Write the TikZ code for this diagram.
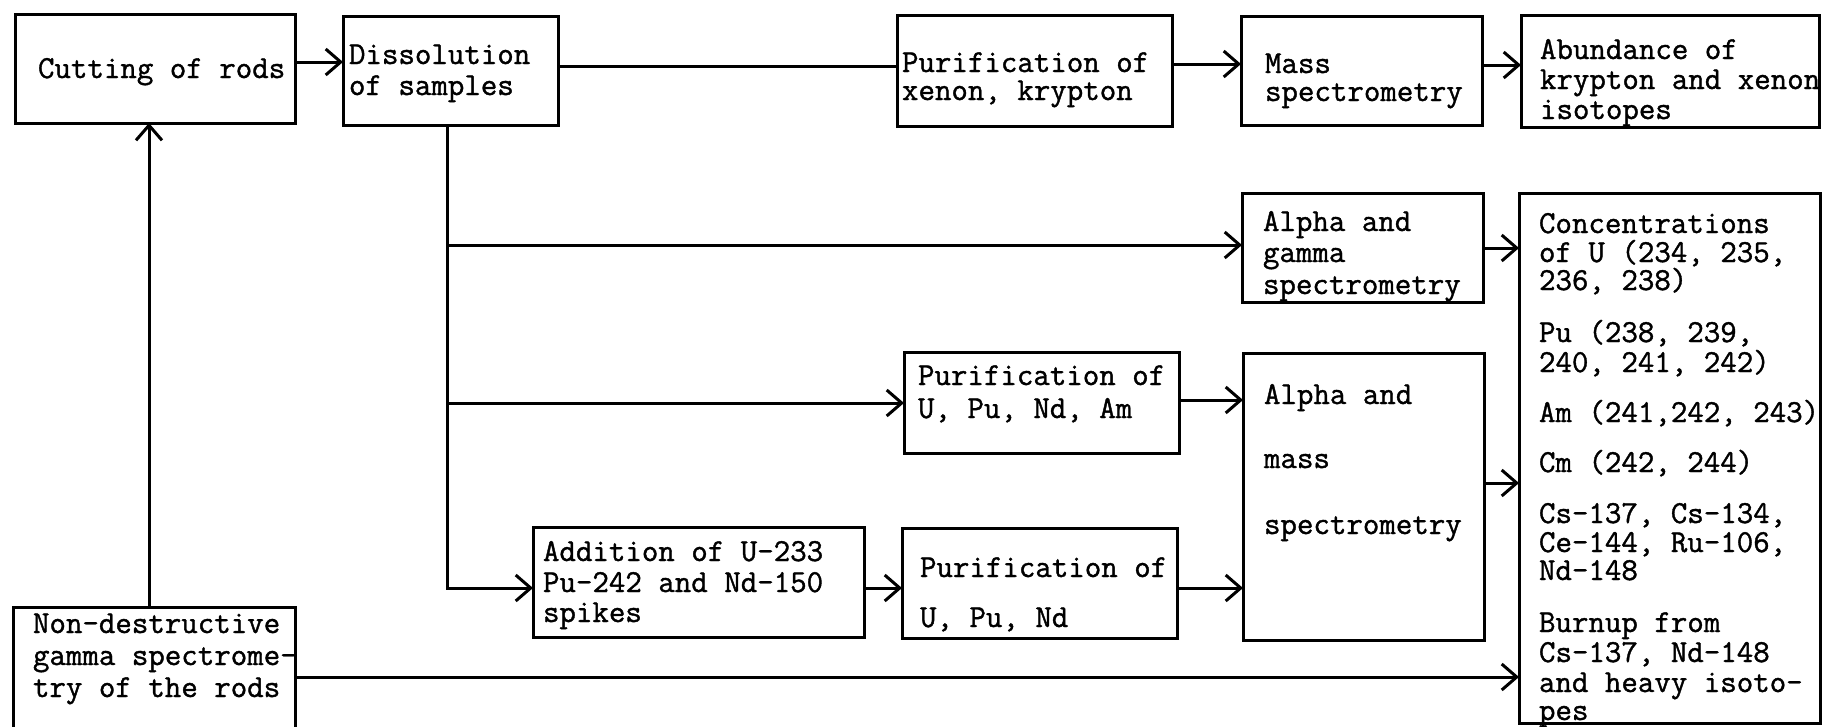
\documentclass[tikz,border=0pt]{standalone}
\usepackage{fontspec}
\newfontfamily\typew{Latin Modern Mono}[FakeBold=1.2]
\usetikzlibrary{arrows.meta}
\begin{document}
\begin{tikzpicture}[x=1pt,y=-1pt,
  box/.style={draw, line width=3pt, anchor=north west, inner sep=0pt, outer sep=0pt},
  txt/.style={anchor=base west, inner sep=0pt, outer sep=0pt, font=\typew\fontsize{32}{32}\selectfont},
  conn/.style={line width=3pt},
  arr/.style={conn, -{Straight Barb[length=15pt,width=26pt,line width=3pt]}}]
\clip (0,0) rectangle (1837,726);
% boxes
\node[box, minimum width=280pt, minimum height=109pt] (cut) at (15,14) {};
\node[box, minimum width=215pt, minimum height=109pt] (diss) at (343,16) {};
\node[box, minimum width=275pt, minimum height=111pt] (xen) at (897,15) {};
\node[box, minimum width=241pt, minimum height=109pt] (mass) at (1241,16) {};
\node[box, minimum width=298pt, minimum height=112pt] (abund) at (1521,15) {};
\node[box, minimum width=241pt, minimum height=109pt] (ag) at (1242,193) {};
\node[box, minimum width=301pt, minimum height=530pt] (res) at (1519,193) {};
\node[box, minimum width=275pt, minimum height=101pt] (pam) at (904,352) {};
\node[box, minimum width=241pt, minimum height=287pt] (am) at (1243,353) {};
\node[box, minimum width=331pt, minimum height=110pt] (add) at (533,527) {};
\node[box, minimum width=275pt, minimum height=110pt] (pun) at (902,528) {};
\node[box, minimum width=282pt, minimum height=160pt] (nd) at (13,607) {};
% texts
\node[txt] (t-cut) at (38,78) {Cutting of rods};
\node[txt] (t-diss1) at (349,64) {Dissolution};
\node[txt] (t-diss2) at (349,95) {of samples};
\node[txt] (t-xen1) at (902,72) {Purification of};
\node[txt] (t-xen2) at (902,100) {xenon, krypton};
\node[txt] (t-mass1) at (1265,73) {Mass};
\node[txt] (t-mass2) at (1265,101) {spectrometry};
\node[txt] (t-ab1) at (1540,59) {Abundance of};
\node[txt] (t-ab2) at (1540,89) {krypton and xenon};
\node[txt] (t-ab3) at (1540,119) {isotopes};
\node[txt] (t-ag1) at (1263,231) {Alpha and};
\node[txt] (t-ag2) at (1263,262) {gamma};
\node[txt] (t-ag3) at (1263,294) {spectrometry};
\node[txt] (t-r1) at (1539,233) {Concentrations};
\node[txt] (t-r2) at (1539,262) {of U (234, 235,};
\node[txt] (t-r3) at (1539,290) {236, 238)};
\node[txt] (t-r4) at (1539,342) {Pu (238, 239,};
\node[txt] (t-r5) at (1539,372) {240, 241, 242)};
\node[txt] (t-r6) at (1539,422) {Am (241,242, 243)};
\node[txt] (t-r7) at (1539,472) {Cm (242, 244)};
\node[txt] (t-r8) at (1539,523) {Cs-137, Cs-134,};
\node[txt] (t-r9) at (1539,552) {Ce-144, Ru-106,};
\node[txt] (t-r10) at (1539,580) {Nd-148};
\node[txt] (t-r11) at (1539,632) {Burnup from};
\node[txt] (t-r12) at (1539,662) {Cs-137, Nd-148};
\node[txt] (t-r13) at (1539,692) {and heavy isoto-};
\node[txt] (t-r14) at (1539,720) {pes};
\node[txt] (t-pam1) at (918,385) {Purification of};
\node[txt] (t-pam2) at (918,418) {U, Pu, Nd, Am};
\node[txt] (t-am1) at (1264,404) {Alpha and};
\node[txt] (t-am2) at (1264,468) {mass};
\node[txt] (t-am3) at (1264,534) {spectrometry};
\node[txt] (t-add1) at (543,561) {Addition of U-233};
\node[txt] (t-add2) at (543,592) {Pu-242 and Nd-150};
\node[txt] (t-add3) at (543,622) {spikes};
\node[txt] (t-pun1) at (920,577) {Purification of};
\node[txt] (t-pun2) at (920,627) {U, Pu, Nd};
\node[txt] (t-nd1) at (33,633) {Non-destructive};
\node[txt] (t-nd2) at (33,665) {gamma spectrome-};
\node[txt] (t-nd3) at (33,697) {try of the rods};
% connectors
\coordinate (split1) at (447,245);
\coordinate (split2) at (447,403);
\coordinate (corner) at (447,588);
\draw[arr] (cut.east |- 0,62) -- (diss.west |- 0,62);
\draw[conn] (diss.east |- 0,66) -- (xen.west |- 0,66);
\draw[arr] (xen.east |- 0,64) -- (mass.west |- 0,64);
\draw[arr] (mass.east |- 0,65) -- (abund.west |- 0,65);
\draw[arr] (nd.north -| 149,0) -- (cut.south -| 149,0);
\draw[arr] (diss.south -| corner) -- (corner) -- (add.west |- corner);
\draw[arr] (split1) -- (ag.west |- split1);
\draw[arr] (split2) -- (pam.west |- split2);
\draw[arr] (ag.east |- 0,248) -- (res.west |- 0,248);
\draw[arr] (pam.east |- 0,400) -- (am.west |- 0,400);
\draw[arr] (add.east |- 0,588) -- (pun.west |- 0,588);
\draw[arr] (pun.east |- 0,588) -- (am.west |- 0,588);
\draw[arr] (am.east |- 0,483) -- (res.west |- 0,483);
\draw[arr] (nd.east |- 0,677) -- (res.west |- 0,677);
\end{tikzpicture}
\end{document}
